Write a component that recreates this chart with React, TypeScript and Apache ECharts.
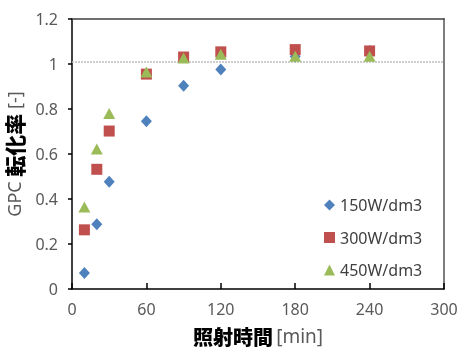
import React, { useEffect, useRef } from 'react';
import * as echarts from 'echarts';

const times = [10, 20, 30, 60, 90, 120, 180, 240];
const s150 = [0.071, 0.288, 0.477, 0.746, 0.903, 0.976, 1.033, 1.058];
const s300 = [0.263, 0.532, 0.702, 0.955, 1.031, 1.054, 1.064, 1.058];
const s450 = [0.364, 0.622, 0.78, 0.965, 1.027, 1.043, 1.035, 1.035];
const seriesNames = ['150W/dm3', '300W/dm3', '450W/dm3'];
const refValue = 1.01;

const FONT = '"Noto Sans", "Noto Sans CJK JP", sans-serif';
const CJK = '"Noto Sans CJK JP", "Noto Sans", sans-serif';

export default function App() {
  const ref = useRef<HTMLDivElement>(null);
  useEffect(() => {
    if (!ref.current) return;
    const chart = echarts.init(ref.current, null, { renderer: 'svg' });
    const pts = (vals: number[]) => vals.map((v, i) => [times[i], v]);
    const option = {
      animation: false,
      grid: { left: 72, top: 19, right: 15, bottom: 60, containLabel: false, outerBoundsMode: 'none' },
      legend: {
        orient: 'vertical',
        left: 319,
        top: 191,
        itemWidth: 11,
        itemHeight: 11,
        itemGap: 14.5,
        data: [
          { name: seriesNames[0], icon: 'diamond' },
          { name: seriesNames[1], icon: 'rect' },
          { name: seriesNames[2], icon: 'triangle' },
        ],
        textStyle: { color: '#404040', fontSize: 16, fontFamily: FONT, lineHeight: 18 },
      },
      xAxis: [
        {
          type: 'value',
          min: 0,
          max: 300,
          interval: 60,
          axisLine: { onZero: false, lineStyle: { color: '#000', width: 1.5 } },
          axisTick: { inside: true, length: 6, lineStyle: { color: '#000', width: 1.5 } },
          axisLabel: { color: '#595959', fontSize: 16, fontFamily: FONT, margin: 12 },
          splitLine: { show: false },
          name: '{b|照射時間} {a|[min]}',
          nameLocation: 'middle',
          nameGap: 37,
          nameTextStyle: {
            rich: {
              b: { fontFamily: CJK, fontWeight: 900, fontSize: 20, color: '#000' },
              a: { fontFamily: FONT, fontSize: 19, color: '#595959' },
            },
          },
        },
        {
          type: 'value',
          position: 'top',
          min: 0,
          max: 300,
          axisLine: { show: true, onZero: false, lineStyle: { color: '#404040', width: 1.5 } },
          axisTick: { show: false },
          axisLabel: { show: false },
          splitLine: { show: false },
        },
      ],
      yAxis: [
        {
          type: 'value',
          min: 0,
          max: 1.2,
          interval: 0.2,
          axisLine: { show: true, onZero: false, lineStyle: { color: '#000', width: 1.5 } },
          axisTick: { show: true, inside: false, length: 4, lineStyle: { color: '#000', width: 1.5 } },
          axisLabel: { color: '#595959', fontSize: 16, fontFamily: FONT, margin: 14 },
          splitLine: { show: false },
          name: '{a|GPC }{b|転化率}{a| [-]}',
          nameLocation: 'middle',
          nameRotate: 90,
          nameGap: 33,
          nameTextStyle: {
            rich: {
              b: { fontFamily: CJK, fontWeight: 900, fontSize: 21, color: '#000' },
              a: { fontFamily: FONT, fontSize: 18, color: '#595959' },
            },
          },
        },
        {
          type: 'value',
          position: 'right',
          min: 0,
          max: 1.2,
          axisLine: { show: true, onZero: false, lineStyle: { color: '#7f7f7f', width: 2 } },
          axisTick: { show: false },
          axisLabel: { show: false },
          splitLine: { show: false },
        },
      ],
      series: [
        {
          name: seriesNames[0],
          type: 'scatter',
          symbol: 'diamond',
          symbolSize: [11, 12],
          itemStyle: { color: '#4F81BD', opacity: 1 },
          data: pts(s150),
          markLine: {
            silent: true,
            symbol: 'none',
            label: { show: false },
            lineStyle: { color: '#BFBFBF', type: [2, 1], width: 1.5 },
            data: [{ yAxis: refValue }],
            z: 1,
          },
        },
        {
          name: seriesNames[1],
          type: 'scatter',
          symbol: 'rect',
          symbolSize: 11,
          itemStyle: { color: '#C0504D', opacity: 1 },
          data: pts(s300),
        },
        {
          name: seriesNames[2],
          type: 'scatter',
          symbol: 'triangle',
          symbolSize: [12, 11],
          itemStyle: { color: '#9BBB59', opacity: 1 },
          data: pts(s450),
        },
      ],
    };
    chart.setOption(option as any);
    return () => chart.dispose();
  }, []);
  return <div ref={ref} style={{ position: 'fixed', left: 0, top: 0, width: 459, height: 349 }} />;
}
